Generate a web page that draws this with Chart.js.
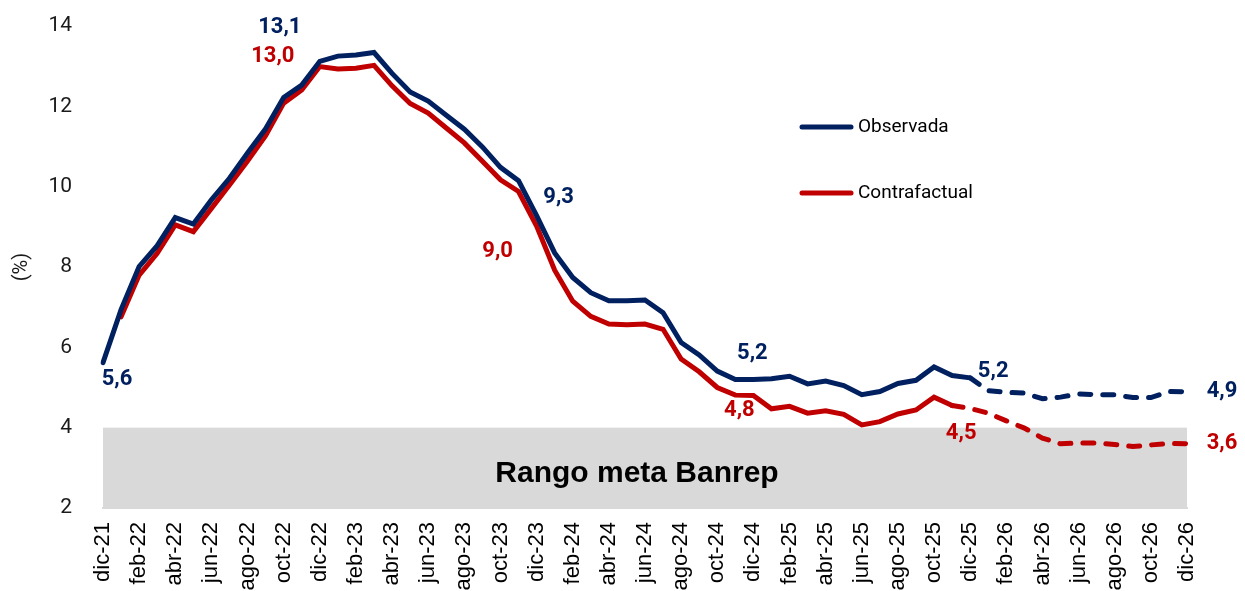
<!DOCTYPE html>
<html lang="es">
<head>
<meta charset="utf-8">
<title>Inflación observada vs contrafactual</title>
<script src="https://cdn.jsdelivr.net/npm/chart.js@4.4.1/dist/chart.umd.min.js"></script>
<style>
  html, body { margin: 0; padding: 0; background: #fff; overflow: hidden; }
  #wrap { width: 1245px; height: 591px; position: relative; }
</style>
</head>
<body>
<div id="wrap"><canvas id="chart" width="1245" height="591"></canvas></div>
<script>
const meses = [
  'dic-21',
  'ene-22', 'feb-22', 'mar-22', 'abr-22', 'may-22', 'jun-22', 'jul-22', 'ago-22', 'sep-22', 'oct-22', 'nov-22', 'dic-22',
  'ene-23', 'feb-23', 'mar-23', 'abr-23', 'may-23', 'jun-23', 'jul-23', 'ago-23', 'sep-23', 'oct-23', 'nov-23', 'dic-23',
  'ene-24', 'feb-24', 'mar-24', 'abr-24', 'may-24', 'jun-24', 'jul-24', 'ago-24', 'sep-24', 'oct-24', 'nov-24', 'dic-24',
  'ene-25', 'feb-25', 'mar-25', 'abr-25', 'may-25', 'jun-25', 'jul-25', 'ago-25', 'sep-25', 'oct-25', 'nov-25', 'dic-25',
  'ene-26', 'feb-26', 'mar-26', 'abr-26', 'may-26', 'jun-26', 'jul-26', 'ago-26', 'sep-26', 'oct-26', 'nov-26', 'dic-26',
];

const observada = [
  5.62,
  6.94, 8.01, 8.53, 9.23, 9.07, 9.67, 10.21, 10.84, 11.44, 12.22, 12.53, 13.12,
  13.25, 13.28, 13.34, 12.82, 12.36, 12.13, 11.78, 11.43, 10.99, 10.48, 10.15, 9.28,
  8.35, 7.74, 7.36, 7.16, 7.16, 7.18, 6.86, 6.12, 5.81, 5.41, 5.20, 5.20,
  5.22, 5.28, 5.09, 5.16, 5.05, 4.82, 4.90, 5.10, 5.18, 5.51, 5.30, 5.24,
  4.92, 4.88, 4.86, 4.72, 4.76, 4.84, 4.82, 4.82, 4.75, 4.75, 4.90, 4.89,
];

const contrafactual = [
  null,
  6.76, 7.80, 8.34, 9.05, 8.88, 9.46, 10.04, 10.64, 11.27, 12.08, 12.41, 12.99,
  12.93, 12.95, 13.02, 12.51, 12.07, 11.83, 11.46, 11.09, 10.63, 10.17, 9.88, 9.02,
  7.92, 7.15, 6.77, 6.58, 6.56, 6.58, 6.45, 5.71, 5.39, 5.00, 4.81, 4.80,
  4.47, 4.53, 4.36, 4.42, 4.33, 4.07, 4.15, 4.34, 4.44, 4.76, 4.55, 4.48,
  4.36, 4.17, 3.99, 3.74, 3.60, 3.62, 3.62, 3.58, 3.53, 3.57, 3.61, 3.60,
];

// rango meta del Banco de la República
const rangoMeta = [2, 4];
const yTicks = [2, 4, 6, 8, 10, 12, 14];

// desde qué punto la serie pasa a ser proyección (línea punteada)
const inicioProyObs = 48;
const inicioProyCf = 47;

const AZUL = '#002060';
const ROJO = '#C00000';

// etiquetas de datos: serie, índice, texto
const etiquetas = [
  { ds: 0, i: 0,  text: '5,6', dx: 14,  dy: 17 },
  { ds: 0, i: 12, text: '13,1', dx: -40, dy: -34 },
  { ds: 0, i: 24, text: '9,3', dx: 22,  dy: -18 },
  { ds: 0, i: 36, text: '5,2', dx: -1,  dy: -26 },
  { ds: 0, i: 48, text: '5,2', dx: 23,  dy: -6 },
  { ds: 0, i: 60, text: '4,9', dx: 35,  dy: 0 },
  { ds: 1, i: 12, text: '13,0', dx: -47, dy: -10 },
  { ds: 1, i: 24, text: '9,0', dx: -39, dy: 25 },
  { ds: 1, i: 36, text: '4,8', dx: -14, dy: 15 },
  { ds: 1, i: 48, text: '4,5', dx: -9,  dy: 25 },
  { ds: 1, i: 60, text: '3,6', dx: 35,  dy: 0 },
];

const bandaMeta = {
  id: 'bandaMeta',
  beforeDatasetsDraw(chart) {
    const { ctx, chartArea, scales: { y } } = chart;
    const top = y.getPixelForValue(rangoMeta[1]);
    const bottom = y.getPixelForValue(rangoMeta[0]);
    ctx.save();
    ctx.fillStyle = '#d9d9d9';
    ctx.fillRect(chartArea.left, top, chartArea.right - chartArea.left, bottom - top);
    ctx.fillStyle = '#000';
    ctx.font = 'bold 30px "Liberation Sans", Arial, sans-serif';
    ctx.textAlign = 'center';
    ctx.textBaseline = 'middle';
    ctx.fillText('Rango meta Banrep', (chartArea.left + chartArea.right) / 2 - 8, (top + bottom) / 2 + 6);
    ctx.restore();
  },
};

const etiquetasDatos = {
  id: 'etiquetasDatos',
  afterDatasetsDraw(chart) {
    const { ctx } = chart;
    ctx.save();
    ctx.font = 'bold 22px Roboto, sans-serif';
    ctx.textAlign = 'center';
    ctx.textBaseline = 'middle';
    etiquetas.forEach(e => {
      const pt = chart.getDatasetMeta(e.ds).data[e.i];
      ctx.fillStyle = chart.data.datasets[e.ds].borderColor;
      ctx.fillText(e.text, pt.x + e.dx, pt.y + e.dy);
    });
    ctx.restore();
  },
};

const leyenda = {
  id: 'leyenda',
  afterDraw(chart) {
    const { ctx } = chart;
    const x0 = 802, x1 = 851, rows = [127, 193];
    ctx.save();
    ctx.font = '19px Roboto, sans-serif';
    ctx.textBaseline = 'middle';
    chart.data.datasets.forEach((ds, k) => {
      const yy = rows[k];
      ctx.strokeStyle = ds.borderColor;
      ctx.lineWidth = 5;
      ctx.lineCap = 'round';
      ctx.beginPath();
      ctx.moveTo(x0, yy);
      ctx.lineTo(x1, yy);
      ctx.stroke();
      ctx.fillStyle = '#000';
      ctx.fillText(ds.label, 858, yy);
    });
    ctx.restore();
  },
};

const ctx = document.getElementById('chart').getContext('2d');
new Chart(ctx, {
  type: 'line',
  data: {
    labels: meses,
    datasets: [
      {
        label: 'Observada',
        data: observada,
        borderColor: AZUL,
        borderWidth: 5,
        borderCapStyle: 'round',
        pointRadius: 0,
        tension: 0,
        segment: { borderDash: c => c.p0DataIndex >= inicioProyObs ? [11, 12] : undefined },
      },
      {
        label: 'Contrafactual',
        data: contrafactual,
        borderColor: ROJO,
        borderWidth: 5,
        borderCapStyle: 'round',
        pointRadius: 0,
        tension: 0,
        segment: { borderDash: c => c.p0DataIndex >= inicioProyCf ? [11, 12] : undefined },
      },
    ],
  },
  options: {
    responsive: false,
    animation: false,
    devicePixelRatio: 1,
    layout: { padding: { top: 26, right: 58, left: 0, bottom: 0 } },
    plugins: { legend: { display: false }, tooltip: { enabled: false } },
    scales: {
      x: {
        offset: false,
        grid: { display: false, drawTicks: false },
        border: { display: true, color: '#d9d9d9', width: 2 },
        ticks: {
          autoSkip: false,
          minRotation: 90,
          maxRotation: 90,
          padding: 14,
          color: '#000',
          font: { family: '"Liberation Sans", Arial, sans-serif', size: 22 },
          callback: (v, i) => i % 2 === 0 ? meses[i] : '',
        },
        afterFit: s => { s.height = 83; },
      },
      y: {
        min: 2,
        max: 14,
        grid: { display: false, drawTicks: false },
        border: { display: false },
        afterBuildTicks: s => { s.ticks = yTicks.map(v => ({ value: v })); },
        ticks: {
          padding: 31,
          color: '#1a1a1a',
          font: { family: 'Roboto, sans-serif', size: 21 },
        },
        title: {
          display: true,
          text: '(%)',
          color: '#1a1a1a',
          font: { family: 'Roboto, sans-serif', size: 20 },
          padding: { top: 10, bottom: 0 },
        },
        afterFit: s => { s.width = 103; s.paddingTop = 0; s.paddingBottom = 0; },
      },
    },
  },
  plugins: [bandaMeta, etiquetasDatos, leyenda],
});
</script>
</body>
</html>
